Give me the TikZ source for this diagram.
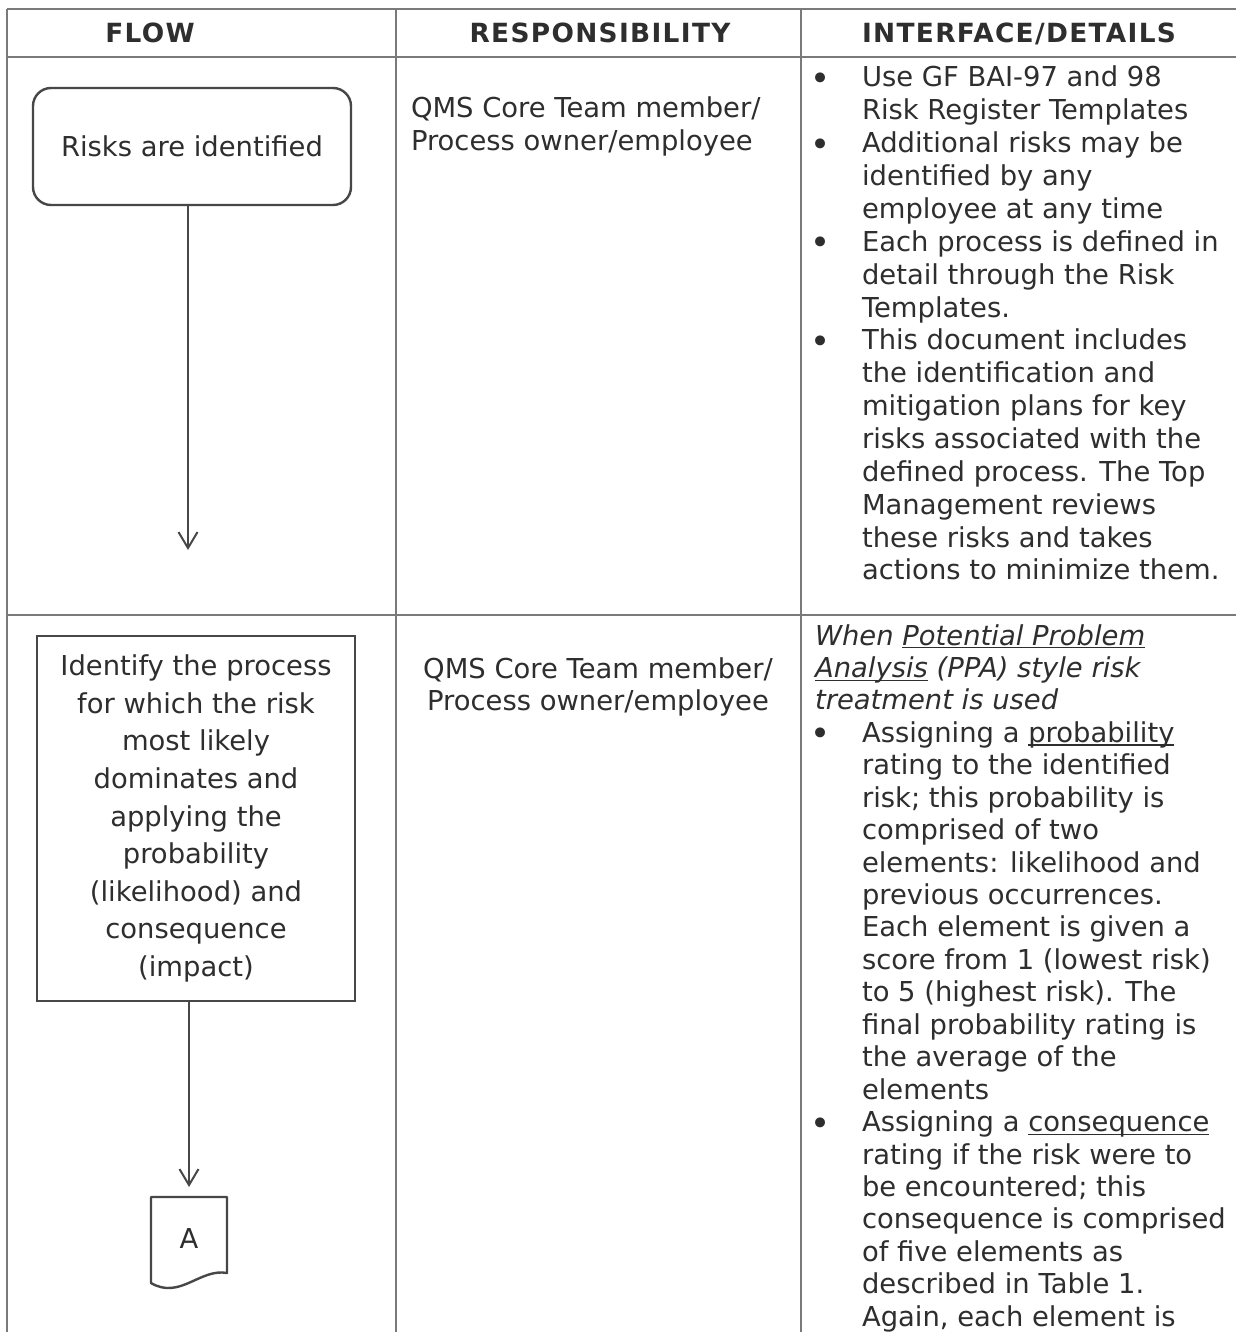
\documentclass[tikz,border=0pt]{standalone}
\usepackage{fontspec}
\setmainfont{DejaVu Sans}
\usetikzlibrary{arrows.meta,calc}
\definecolor{ink}{HTML}{2E2E2E}
\definecolor{gridline}{HTML}{7A7A7A}
\definecolor{boxline}{HTML}{474747}
\newcommand{\bodyfont}{\fontsize{13.7}{16.4}\selectfont}
\newcommand{\bul}{\makebox[25pt][l]{\hspace*{-1pt}\fontsize{17}{17}\selectfont\raisebox{-1.8pt}{•}}}
\newcommand{\myul}[1]{\leavevmode\setbox0\hbox{#1}\rlap{\rule[-1.7pt]{\wd0}{0.65pt}}\box0\relax}
\newcommand{\itemstart}{\par\hangindent=25pt\hangafter=1\noindent\bul}
\begin{document}
\begin{tikzpicture}[x=0.5pt,y=-0.5pt,
  grid/.style={draw=gridline, line width=0.75pt},
  txt/.style={inner sep=0pt, outer sep=0pt, text=ink, font=\bodyfont},
  hdr/.style={inner sep=0pt, text=ink, font=\fontsize{13.2}{15}\selectfont\bfseries\addfontfeatures{LetterSpace=5}, anchor=base},
  flowbox/.style={draw=boxline, line width=1.2pt, minimum width=159pt, inner sep=0pt, text=ink, font=\bodyfont},
  arr/.style={draw=boxline, line width=1pt, -{Straight Barb[length=8pt,width=9.5pt]}}
]
\useasboundingbox (0,0) rectangle (1236,1332);
\clip (0,0) rectangle (1236,1332);
\fill[white] (0,0) rectangle (1236,1332);

% table rules
\draw[grid] (7,9) -- (1236,9);
\draw[grid] (7,57) -- (1236,57);
\draw[grid] (7,615) -- (1236,615);
\draw[grid] (7,9) -- (7,1332);
\draw[grid] (396,9) -- (396,1332);
\draw[grid] (801,9) -- (801,1332);

% headers
\node[hdr] (hflow) at (150,43) {FLOW};
\node[hdr] (hresp) at (600,43) {RESPONSIBILITY};
\node[hdr] (hint) at (1019,43) {INTERFACE/DETAILS};

% row 1 flow
\node[flowbox, rounded corners=9pt, minimum height=58.5pt] (risks) at (192,146.5) {Risks are identified};
\coordinate (end1) at (188,550);
\draw[arr] (risks.south -| end1) -- (end1);

% row 1 responsibility
\node[txt, anchor=base west] (resp1) at (411,118)
  {\parbox[t]{200pt}{\bodyfont QMS Core Team member/\\Process owner/employee}};

% row 1 details
\node[txt, anchor=base west] (det1) at (812,87)
  {\parbox[t]{212pt}{\fontsize{13.7}{16.43}\selectfont
   \itemstart Use GF BAI-97 and 98\\Risk Register Templates
   \itemstart Additional risks may be\\identified by any\\employee at any time
   \itemstart Each process is defined in\\detail through the Risk\\Templates.
   \itemstart This document includes\\the identification and\\mitigation plans for key\\risks associated with the\\defined process. The Top\\Management reviews\\these risks and takes\\actions to minimize them.}};

% row 2 flow
\node[flowbox, minimum height=182.5pt] (flow2) at (196,818.5)
  {\parbox[t]{155pt}{\centering\fontsize{13.7}{18.8}\selectfont Identify the process\\for which the risk\\most likely\\dominates and\\applying the\\probability\\(likelihood) and\\consequence\\(impact)}};

\node[txt, anchor=north, minimum width=38pt, minimum height=46.5pt, text height=10pt, text depth=5.5pt] (docA) at (189,1197) {A};
\draw[boxline, line width=1.2pt, line join=round]
  (docA.north west) -- (docA.north east) -- ($(docA.north east)+(0,76)$)
  .. controls ($(docA.north east)+(-27,71)$) and ($(docA.north east)+(-47,103)$) .. ($(docA.north west)+(0,86)$)
  -- cycle;
\draw[arr, shorten >=5pt] (flow2.south -| docA.north) -- (docA.north);

% row 2 responsibility
\node[txt, anchor=base] (resp2) at (598,678)
  {\parbox[t]{200pt}{\centering\bodyfont QMS Core Team member/\\Process owner/employee}};

% row 2 details
\node[txt, anchor=base west] (det2) at (815,645)
  {\parbox[t]{212pt}{\fontsize{13.7}{16.22}\selectfont
   \noindent\textit{When \myul{Potential Problem}\\\myul{Analysis} (PPA) style risk\\treatment is used}
   \par\hangindent=23.5pt\hangafter=1\noindent\hspace*{-1.5pt}\bul Assigning a \myul{probability}\\rating to the identified\\risk; this probability is\\comprised of two\\elements: likelihood and\\previous occurrences.\\Each element is given a\\score from 1 (lowest risk)\\to 5 (highest risk). The\\final probability rating is\\the average of the\\elements
   \par\hangindent=23.5pt\hangafter=1\noindent\hspace*{-1.5pt}\bul Assigning a \myul{consequence}\\rating if the risk were to\\be encountered; this\\consequence is comprised\\of five elements as\\described in Table 1.\\Again, each element is}};
\end{tikzpicture}
\end{document}
